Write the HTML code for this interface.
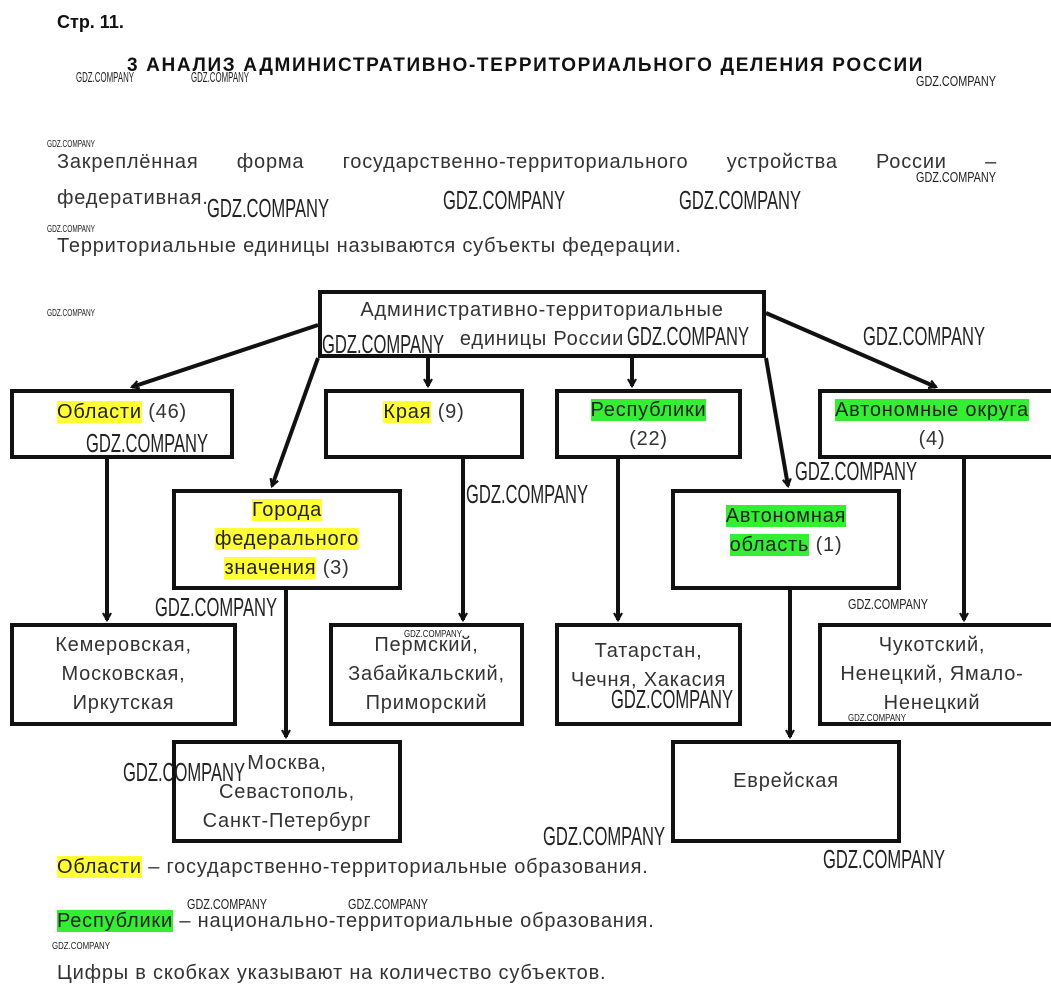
<!DOCTYPE html>
<html><head><meta charset="utf-8"><style>
body{margin:0;background:#fff;position:relative;width:1051px;height:1000px;overflow:hidden}
svg{display:block;position:absolute;left:0;top:0}
.w{font-family:"Liberation Sans",sans-serif;fill:#222}
.t{position:absolute;font-family:"Liberation Sans",sans-serif;font-size:20px;letter-spacing:0.8px;color:#333;line-height:29px;text-align:center;white-space:nowrap}
.p{position:absolute;font-family:"Liberation Sans",sans-serif;font-size:20px;letter-spacing:0.8px;color:#333;line-height:29px;white-space:nowrap}
.y{background:#ffff33;color:#222}
.g{background:#33ee33;color:#222}
</style></head><body>
<svg width="1051" height="1000" viewBox="0 0 1051 1000">
<defs><marker id="a" markerWidth="10" markerHeight="10" refX="8" refY="5" orient="auto" markerUnits="userSpaceOnUse" viewBox="0 0 10 10"><path d="M1,1 L8,5 L1,9" fill="none" stroke="#111" stroke-width="2.2"/></marker></defs>
<g stroke="#111" stroke-width="4" fill="#fff">
<rect x="320" y="292" width="444" height="64"/>
<rect x="12" y="391" width="220" height="66"/>
<rect x="326" y="391" width="196" height="66"/>
<rect x="557" y="391" width="183" height="66"/>
<rect x="820" y="391" width="240" height="66"/>
<rect x="174" y="491" width="226" height="97"/>
<rect x="673" y="491" width="226" height="97"/>
<rect x="12" y="625" width="223" height="99"/>
<rect x="331" y="625" width="191" height="99"/>
<rect x="557" y="625" width="183" height="99"/>
<rect x="820" y="625" width="240" height="99"/>
<rect x="174" y="742" width="226" height="99"/>
<rect x="673" y="742" width="226" height="99"/>
</g>
<g stroke="#111" stroke-width="4" fill="none" marker-end="url(#a)">
<line x1="318" y1="325" x2="132" y2="387"/>
<line x1="318" y1="358" x2="272" y2="486"/>
<line x1="428" y1="358" x2="428" y2="386"/>
<line x1="632" y1="358" x2="632" y2="386"/>
<line x1="766" y1="313" x2="936" y2="387"/>
<line x1="766" y1="358" x2="788" y2="486"/>
<line x1="107" y1="458" x2="107" y2="620"/>
<line x1="463" y1="458" x2="463" y2="620"/>
<line x1="618" y1="458" x2="618" y2="620"/>
<line x1="964" y1="458" x2="964" y2="620"/>
<line x1="286" y1="589" x2="286" y2="737"/>
<line x1="790" y1="589" x2="790" y2="737"/>
</g>
</svg>
<div class="p" style="left:57px;top:8px;font-size:18px;font-weight:bold;letter-spacing:0;color:#111">Стр. 11.</div>
<div class="p" style="left:127px;top:51px;font-size:19px;font-weight:bold;letter-spacing:1.65px;color:#111">3 АНАЛИЗ АДМИНИСТРАТИВНО-ТЕРРИТОРИАЛЬНОГО ДЕЛЕНИЯ РОССИИ</div>
<div class="p" style="left:57px;top:148px;width:940px;white-space:normal;text-align:justify;text-align-last:justify">Закреплённая форма государственно-территориального устройства России –</div>
<div class="p" style="left:57px;top:184px">федеративная.</div>
<div class="p" style="left:57px;top:232px">Территориальные единицы называются субъекты федерации.</div>

<div class="t" style="left:320px;width:444px;top:296px">Административно-территориальные<br>единицы России</div>
<div class="t" style="left:12px;width:220px;top:398px"><span class="y">Области</span> (46)</div>
<div class="t" style="left:326px;width:196px;top:398px"><span class="y">Края</span> (9)</div>
<div class="t" style="left:557px;width:183px;top:396px"><span class="g">Республики</span><br>(22)</div>
<div class="t" style="left:820px;width:224px;top:396px"><span class="g">Автономные округа</span><br>(4)</div>
<div class="t" style="left:174px;width:226px;top:496px"><span class="y">Города</span><br><span class="y">федерального</span><br><span class="y">значения</span> (3)</div>
<div class="t" style="left:673px;width:226px;top:502px"><span class="g">Автономная</span><br><span class="g">область</span> (1)</div>
<div class="t" style="left:12px;width:223px;top:631px">Кемеровская,<br>Московская,<br>Иркутская</div>
<div class="t" style="left:331px;width:191px;top:631px">Пермский,<br>Забайкальский,<br>Приморский</div>
<div class="t" style="left:557px;width:183px;top:637px">Татарстан,<br>Чечня, Хакасия</div>
<div class="t" style="left:820px;width:224px;top:631px">Чукотский,<br>Ненецкий, Ямало-<br>Ненецкий</div>
<div class="t" style="left:174px;width:226px;top:749px">Москва,<br>Севастополь,<br>Санкт-Петербург</div>
<div class="t" style="left:673px;width:226px;top:767px">Еврейская</div>

<div class="p" style="left:57px;top:853px"><span class="y">Области</span> – государственно-территориальные образования.</div>
<div class="p" style="left:57px;top:907px"><span class="g">Республики</span> – национально-территориальные образования.</div>
<div class="p" style="left:57px;top:959px">Цифры в скобках указывают на количество субъектов.</div>

<svg width="1051" height="1000" viewBox="0 0 1051 1000">
<g class="w" font-size="26">
<text x="207" y="217" textLength="122" lengthAdjust="spacingAndGlyphs">GDZ.COMPANY</text>
<text x="443" y="209" textLength="122" lengthAdjust="spacingAndGlyphs">GDZ.COMPANY</text>
<text x="679" y="209" textLength="122" lengthAdjust="spacingAndGlyphs">GDZ.COMPANY</text>
<text x="322" y="353" textLength="122" lengthAdjust="spacingAndGlyphs">GDZ.COMPANY</text>
<text x="627" y="345" textLength="122" lengthAdjust="spacingAndGlyphs">GDZ.COMPANY</text>
<text x="863" y="345" textLength="122" lengthAdjust="spacingAndGlyphs">GDZ.COMPANY</text>
<text x="86" y="452" textLength="122" lengthAdjust="spacingAndGlyphs">GDZ.COMPANY</text>
<text x="466" y="503" textLength="122" lengthAdjust="spacingAndGlyphs">GDZ.COMPANY</text>
<text x="795" y="480" textLength="122" lengthAdjust="spacingAndGlyphs">GDZ.COMPANY</text>
<text x="155" y="616" textLength="122" lengthAdjust="spacingAndGlyphs">GDZ.COMPANY</text>
<text x="611" y="708" textLength="122" lengthAdjust="spacingAndGlyphs">GDZ.COMPANY</text>
<text x="123" y="781" textLength="122" lengthAdjust="spacingAndGlyphs">GDZ.COMPANY</text>
<text x="543" y="845" textLength="122" lengthAdjust="spacingAndGlyphs">GDZ.COMPANY</text>
<text x="823" y="868" textLength="122" lengthAdjust="spacingAndGlyphs">GDZ.COMPANY</text>
</g>
<g class="w" font-size="15">
<text x="76" y="82" textLength="58" lengthAdjust="spacingAndGlyphs">GDZ.COMPANY</text>
<text x="191" y="82" textLength="58" lengthAdjust="spacingAndGlyphs">GDZ.COMPANY</text>
<text x="916" y="86" textLength="80" lengthAdjust="spacingAndGlyphs">GDZ.COMPANY</text>
<text x="916" y="182" textLength="80" lengthAdjust="spacingAndGlyphs">GDZ.COMPANY</text>
<text x="848" y="609" textLength="80" lengthAdjust="spacingAndGlyphs">GDZ.COMPANY</text>
<text x="187" y="909" textLength="80" lengthAdjust="spacingAndGlyphs">GDZ.COMPANY</text>
<text x="348" y="909" textLength="80" lengthAdjust="spacingAndGlyphs">GDZ.COMPANY</text>
</g>
<g class="w" font-size="10">
<text x="47" y="147" textLength="48" lengthAdjust="spacingAndGlyphs">GDZ.COMPANY</text>
<text x="47" y="232" textLength="48" lengthAdjust="spacingAndGlyphs">GDZ.COMPANY</text>
<text x="47" y="316" textLength="48" lengthAdjust="spacingAndGlyphs">GDZ.COMPANY</text>
<text x="404" y="637" textLength="58" lengthAdjust="spacingAndGlyphs">GDZ.COMPANY</text>
<text x="848" y="721" textLength="58" lengthAdjust="spacingAndGlyphs">GDZ.COMPANY</text>
<text x="52" y="949" textLength="58" lengthAdjust="spacingAndGlyphs">GDZ.COMPANY</text>
</g>
</svg>
</body></html>
